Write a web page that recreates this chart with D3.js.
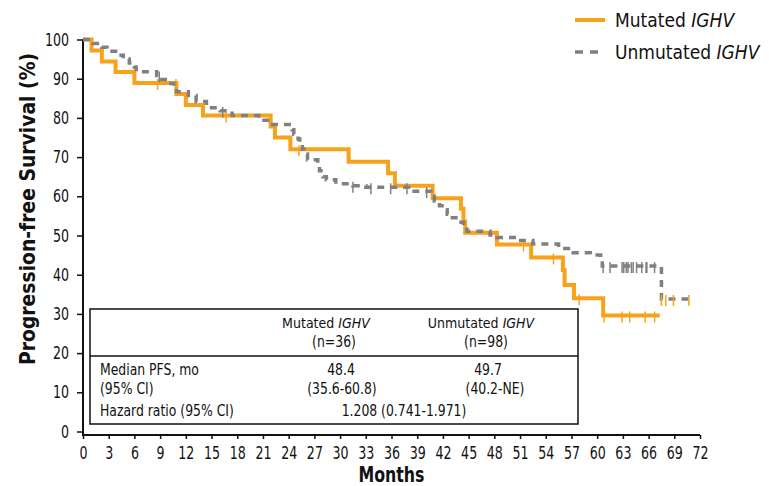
<!DOCTYPE html>
<html>
<head>
<meta charset="utf-8">
<script src="https://cdn.jsdelivr.net/npm/d3@7"></script>
<style>
  html, body { margin: 0; padding: 0; background: #fff; }
  svg { display: block; }
  text { font-family: 'Liberation Sans Narrow', 'Arial Narrow', 'DejaVu Sans Condensed', sans-serif; font-stretch: condensed; fill: #111; }
</style>
</head>
<body>
<svg id="chart" width="769" height="486"></svg>
<script>
// Kaplan-Meier steps: month of each drop and survival (%) after it
const mutatedMonths = [0, 1.0, 2.2, 3.8, 6.0, 10.9, 12.0, 14.0, 21.9, 22.4, 24.2, 31.0, 35.6, 36.4, 40.8, 44.1, 44.4, 44.6, 48.3, 52.3, 56.0, 56.2, 57.3, 60.7];
const mutatedSurv   = [100, 97.2, 94.4, 91.7, 88.9, 86.1, 83.3, 80.6, 77.8, 75.0, 72.0, 68.8, 65.9, 62.7, 59.5, 56.8, 53.6, 50.7, 47.7, 44.4, 41.2, 37.4, 34.0, 29.6];
const mutatedEnd = 67.3;
const mutatedCensored = [8.7, 10.85, 16.7, 25.2, 51.4, 54.9, 57.9, 60.8, 62.9, 63.8, 65.6, 66.7];
const lateCensored = [67.5, 68.0, 68.9, 70.7];

const unmutatedMonths = [0, 1.2, 2.2, 2.8, 3.8, 4.7, 5.4, 6.0, 6.2, 8.6, 9.0, 10.0, 10.6, 10.9, 12.3, 13.2, 14.4, 16.0, 17.4, 20.5, 21.8, 24.4, 24.6, 25.1, 25.3, 25.6, 25.8, 26.2, 27.4, 27.6, 28.0, 28.4, 29.5, 31.5, 33.0, 38.0, 40.6, 41.0, 41.6, 41.9, 42.5, 42.8, 43.8, 44.4, 44.8, 47.5, 48.3, 50.6, 52.5, 55.5, 57.2, 59.2, 60.4, 60.6, 67.5];
const unmutatedSurv   = [100, 99.0, 98.0, 97.0, 96.0, 95.0, 94.0, 93.0, 91.8, 90.8, 89.8, 88.8, 87.7, 86.7, 85.7, 84.2, 82.6, 81.8, 80.6, 79.4, 78.3, 77.0, 75.8, 74.6, 73.5, 72.0, 70.8, 69.3, 67.8, 66.5, 65.0, 64.2, 63.2, 62.7, 62.3, 61.3, 60.0, 58.8, 57.6, 56.6, 55.4, 54.5, 53.4, 52.2, 51.1, 50.1, 49.5, 48.7, 47.8, 46.7, 45.6, 45.0, 44.0, 42.2, 33.8];
const unmutatedEnd = 70.8;
const unmutatedCensored = [8.9, 16.3, 31.5, 33.6, 35.9, 37.8, 40.1, 60.7, 61.5, 62.9, 63.1, 63.4, 63.6, 64.0, 64.2, 64.6, 65.2, 65.7, 65.8, 66.7];

const xTicks = d3.range(0, 73, 3);
const yTicks = d3.range(0, 101, 10);

const seriesNames = ["Mutated ", "Unmutated "];
const tableHeader = [["Mutated ", "IGHV", "(n=36)"], ["Unmutated ", "IGHV", "(n=98)"]];
const medianPFS = ["48.4", "49.7"];
const medianCI = ["(35.6-60.8)", "(40.2-NE)"];
const hazardText = "1.208 (0.741-1.971)";

const ORANGE = "#F8A21C";
const GRAY = "#808080";

const svg = d3.select("#chart");
const x = d3.scaleLinear().domain([0, 72]).range([83, 700]);
const y = d3.scaleLinear().domain([0, 100]).range([431.5, 39.5]);

// narrow a text horizontally to a fraction of its natural width
function squeeze(sel, f) {
  sel.each(function () {
    const w = this.getComputedTextLength();
    d3.select(this).attr("textLength", w * f).attr("lengthAdjust", "spacingAndGlyphs");
  });
}

// axes
const xAxisY = 435;
const gx = svg.append("g").attr("transform", `translate(0,${xAxisY})`)
  .call(d3.axisBottom(x).tickValues(xTicks).tickSize(4).tickPadding(8).tickSizeOuter(0));
const gy = svg.append("g").attr("transform", `translate(${x(0)},0)`)
  .call(d3.axisLeft(y).tickValues(yTicks).tickSize(6).tickPadding(8).tickSizeOuter(0));
[gx, gy].forEach(g => {
  g.select(".domain").attr("stroke", "#111").attr("stroke-width", 2);
  g.selectAll(".tick line").attr("stroke", "#111").attr("stroke-width", 1.5);
  g.selectAll(".tick text").style("font-size", "17.5px").attr("fill", "#111");
  squeeze(g.selectAll(".tick text"), 0.8);
});
gx.select(".domain").attr("d", `M${x(0) - 1},0H${x(72)}`);
gy.select(".domain").attr("d", `M0,${y(100)}V${xAxisY}`);

// axis titles
svg.append("text").attr("x", x(36)).attr("y", 482).attr("text-anchor", "middle")
  .attr("textLength", 66).attr("lengthAdjust", "spacingAndGlyphs")
  .style("font-size", "21px").style("font-weight", "bold").text("Months");
svg.append("text").attr("transform", "translate(35,209) rotate(-90)").attr("text-anchor", "middle")
  .attr("textLength", 312).attr("lengthAdjust", "spacingAndGlyphs")
  .style("font-size", "21px").style("font-weight", "bold").text("Progression-free Survival (%)");

// curves
const stepLine = d3.line().x(d => x(d[0])).y(d => y(d[1])).curve(d3.curveStepAfter);
const mutPts = mutatedMonths.map((m, i) => [m, mutatedSurv[i]]).concat([[mutatedEnd, mutatedSurv[mutatedSurv.length - 1]]]);
const unmPts = unmutatedMonths.map((m, i) => [m, unmutatedSurv[i]]).concat([[unmutatedEnd, unmutatedSurv[unmutatedSurv.length - 1]]]);

function survAt(months, surv, t) {
  let v = surv[0];
  for (let i = 0; i < months.length; i++) if (months[i] <= t) v = surv[i];
  return v;
}
function ticks(list, months, surv, color) {
  svg.append("g").selectAll("line").data(list).join("line")
    .attr("x1", d => x(d)).attr("x2", d => x(d))
    .attr("y1", d => y(survAt(months, surv, d)) - 4)
    .attr("y2", d => y(survAt(months, surv, d)) + 7)
    .attr("stroke", color).attr("stroke-width", 1.5);
}

svg.append("path").attr("d", stepLine(mutPts)).attr("fill", "none")
  .attr("stroke", ORANGE).attr("stroke-width", 4);
ticks(mutatedCensored, mutatedMonths, mutatedSurv, ORANGE);

svg.append("path").attr("d", stepLine(unmPts)).attr("fill", "none")
  .attr("stroke", GRAY).attr("stroke-width", 3.5).attr("stroke-dasharray", "7,6");
ticks(unmutatedCensored, unmutatedMonths, unmutatedSurv, GRAY);
ticks(lateCensored, unmutatedMonths, unmutatedSurv, ORANGE);

// legend
const legend = svg.append("g");
legend.append("line").attr("x1", 575).attr("x2", 605).attr("y1", 20).attr("y2", 20)
  .attr("stroke", ORANGE).attr("stroke-width", 4);
legend.append("line").attr("x1", 575).attr("x2", 598).attr("y1", 52).attr("y2", 52)
  .attr("stroke", GRAY).attr("stroke-width", 3.5).attr("stroke-dasharray", "8,7");
[27, 59].forEach((yy, i) => {
  const t = legend.append("text").attr("x", 615).attr("y", yy).style("font-size", "19px");
  t.append("tspan").text(seriesNames[i]);
  t.append("tspan").style("font-style", "italic").text("IGHV");
});

// summary table
const tbl = svg.append("g").style("font-size", "15px");
tbl.append("rect").attr("x", 90).attr("y", 309).attr("width", 488).attr("height", 115)
  .attr("fill", "#fff").attr("stroke", "#111").attr("stroke-width", 1.5);
tbl.append("line").attr("x1", 90).attr("x2", 578).attr("y1", 356).attr("y2", 356)
  .attr("stroke", "#111").attr("stroke-width", 1.5);
const colHead = [326, 481], colN = [334, 486], colVal = [341, 488], colCI = [342, 495];
const cells = tbl.append("g");
tableHeader.forEach((h, i) => {
  const t = tbl.append("text").attr("x", colHead[i]).attr("y", 328).attr("text-anchor", "middle")
    .style("font-size", "14px");
  t.append("tspan").text(h[0]);
  t.append("tspan").style("font-style", "italic").text(h[1]);
  cells.append("text").attr("x", colN[i]).attr("y", 347).attr("text-anchor", "middle").text(h[2]);
  cells.append("text").attr("x", colVal[i]).attr("y", 375).attr("text-anchor", "middle").text(medianPFS[i]);
  cells.append("text").attr("x", colCI[i]).attr("y", 394).attr("text-anchor", "middle").text(medianCI[i]);
});
cells.append("text").attr("x", 100).attr("y", 375).text("Median PFS, mo");
cells.append("text").attr("x", 100).attr("y", 394).text("(95% CI)");
cells.append("text").attr("x", 100).attr("y", 416).text("Hazard ratio (95% CI)");
cells.append("text").attr("x", 404).attr("y", 416).attr("text-anchor", "middle").text(hazardText);
squeeze(cells.selectAll("text"), 0.92);
</script>
</body>
</html>
